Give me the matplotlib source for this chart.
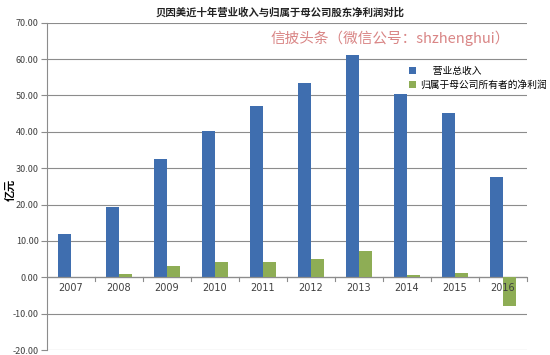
import matplotlib
matplotlib.use("Agg")
import matplotlib.pyplot as plt
import numpy as np
from matplotlib.ticker import FuncFormatter

plt.rcParams['font.family'] = ['Noto Sans CJK SC', 'DejaVu Sans']

years = ['2007', '2008', '2009', '2010', '2011', '2012', '2013', '2014', '2015', '2016']
revenue = [12.0, 19.3, 32.6, 40.3, 47.2, 53.5, 61.0, 50.3, 45.2, 27.5]
net_profit = [0.2, 0.8, 3.2, 4.2, 4.2, 5.0, 7.2, 0.6, 1.1, -7.8]
series_names = ['      营业总收入', '归属于母公司所有者的净利润']
title = '贝因美近十年营业收入与归属于母公司股东净利润对比'
ylabel = '亿元'
watermark = '信披头条（微信公号：shzhenghui）'

fig = plt.figure(figsize=(5.5, 3.55), dpi=100)
ax = fig.add_axes([0.0855, 0.014, 0.8727, 0.922])

x = np.arange(len(years))
w = 0.27
ax.bar(x - w / 2, revenue, w, color='#3F6EAF', label=series_names[0], zorder=3)
ax.bar(x + w / 2, net_profit, w, color='#8EAD55', label=series_names[1], zorder=5)

ax.set_xlim(-0.5, len(years) - 0.5)
ax.set_ylim(-20, 70)
ax.set_yticks(np.arange(-20, 71, 10))
ax.yaxis.set_major_formatter(FuncFormatter(lambda v, p: f'{v:.2f}'))
ax.grid(axis='y', color='#8C8C8C', linewidth=0.8, zorder=0)
ax.axhline(0, color='#8C8C8C', linewidth=0.9, zorder=4)

for s in ['top', 'right', 'bottom']:
    ax.spines[s].set_visible(False)
ax.spines['left'].set_color('#8C8C8C')
ax.tick_params(axis='y', length=4, color='#8C8C8C', labelsize=6.5, labelcolor='#404040', pad=2)

ax.set_xticks([])
for i, yr in enumerate(years):
    ax.text(i, -1.6, yr, ha='center', va='top', fontsize=7, color='#404040',
            family=['DejaVu Sans'], zorder=6)
    ax.plot([i + 0.5, i + 0.5], [0, -0.9], color='#8C8C8C', linewidth=0.8, zorder=4, clip_on=False)

fig.text(0.018, 0.465, ylabel, rotation=90, ha='center', va='center', fontsize=8, fontweight='bold')

fig.text(0.51, 0.965, title, ha='center', va='center', fontsize=7.5, fontweight='bold', color='#222222')
fig.text(0.71, 0.893, watermark, ha='center', va='center', fontsize=10.5, color='#D98585')

fig.legend(loc='upper left', bbox_to_anchor=(0.728, 0.84), frameon=False, fontsize=7,
           handlelength=0.7, handleheight=0.7, handletextpad=0.4, labelspacing=0.45)

fig.savefig('out.png', dpi=100)
